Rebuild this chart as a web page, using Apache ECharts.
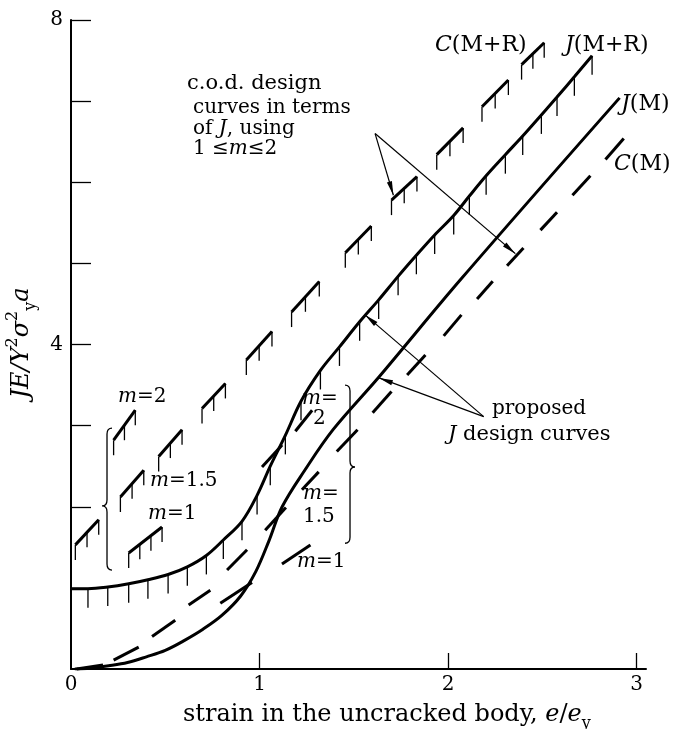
<!DOCTYPE html>
<html><head><meta charset="utf-8">
<script src="https://cdn.jsdelivr.net/npm/echarts@6/dist/echarts.min.js"></script>
<style>html,body{margin:0;padding:0;background:#fff}#c{width:677px;height:729px}</style>
</head><body><div id="c"></div>
<script>
// ---------- data ----------
const xTickLabels = [0, 1, 2, 3];
const xTickValues = [1, 2, 3];
const yTickLabels = [4, 8];
const yTickValues = [1, 2, 3, 4, 5, 6, 7, 8];

// J(M+R): proposed J design curve (solid, hatched)
const jMR = [[0,0.99],[0.09,0.99],[0.195,1.01],[0.306,1.05],[0.408,1.10],[0.515,1.165],[0.617,1.26],
  [0.718,1.40],[0.808,1.59],[0.907,1.82],[0.987,2.14],[1.057,2.50],[1.137,2.88],[1.22,3.30],[1.323,3.68],
  [1.424,3.97],[1.531,4.28],[1.632,4.55],[1.735,4.84],[1.832,5.10],[1.929,5.35],[2.03,5.59],[2.113,5.83],
  [2.202,6.08],[2.304,6.34],[2.396,6.57],[2.495,6.83],[2.578,7.05],[2.67,7.30],[2.764,7.56]];
// J(M): proposed J design curve (solid)
const jM = [[0.02,0],[0.1,0.01],[0.2,0.04],[0.3,0.08],[0.4,0.15],[0.5,0.23],[0.6,0.35],[0.7,0.49],
  [0.8,0.66],[0.9,0.90],[0.98,1.20],[1.05,1.58],[1.12,2.0],[1.24,2.45],[1.39,2.95],[1.63,3.59],[2.07,4.81],[2.91,7.04]];
// C(M) c.o.d. curve, m = 1.5 (dashes: x0,y0,x1,y1)
const cM = [[0.03,0.0,0.17,0.05],[0.226,0.11,0.359,0.27],[0.43,0.40,0.553,0.60],[0.624,0.79,0.739,0.97],
  [0.828,1.22,0.934,1.47],[1.03,1.71,1.14,1.99],[1.225,2.21,1.314,2.43],[1.41,2.68,1.52,2.95],
  [1.60,3.16,1.70,3.42],[1.783,3.625,1.88,3.87],[1.977,4.106,2.071,4.365],[2.154,4.56,2.237,4.78],
  [2.313,4.97,2.40,5.19],[2.49,5.41,2.578,5.63],[2.66,5.84,2.755,6.08],[2.835,6.28,2.932,6.54]];
const cM_m2 = [[1.013,2.49,1.12,2.76],[1.19,2.93,1.279,3.19]];
const cM_m1 = [[0.792,0.81,0.960,1.065],[1.119,1.295,1.27,1.53]];
// C(M+R) c.o.d. curve, m = 1.5 (hatched dashes)
const cMR = [[0.023,1.53,0.147,1.84],[0.262,2.12,0.386,2.45],[0.465,2.62,0.589,2.95],[0.695,3.21,0.819,3.52],
  [0.93,3.81,1.066,4.16],[1.17,4.40,1.317,4.776],[1.455,5.13,1.593,5.46],[1.70,5.78,1.835,6.07],
  [1.94,6.34,2.08,6.67],[2.18,6.93,2.32,7.26],[2.39,7.45,2.51,7.72]];
const cMR_m2 = [[0.226,2.82,0.341,3.19]];
const cMR_m1 = [[0.306,1.43,0.483,1.75]];
// braces: x, yTop, yBottom, yCusp
const braceLeft = [[0.191, 2.97, 1.22, 2.01]];
const braceRight = [[1.48, 3.50, 1.55, 2.49]];
// annotation arrows: from (x0,y0) to tip (x1,y1)
const codArrows = [[1.613,6.60,1.71,5.84],[1.613,6.60,2.357,5.12]];
const proposedArrows = [[2.189,3.111,1.56,4.365],[2.189,3.111,1.634,3.588]];

// ---------- rendering ----------
const F = "'DejaVu Serif', 'Liberation Serif', serif";
const chart = echarts.init(document.getElementById('c'));

function segSeries(data, hatch) {
  return {
    type: 'custom', coordinateSystem: 'cartesian2d', data: data, silent: true, z: 3,
    encode: {x: [0, 2], y: [1, 3]},
    renderItem: function (params, api) {
      const x0 = api.value(0), x1 = api.value(2);
      const a = api.coord([x0, api.value(1)]);
      const b = api.coord([x1, api.value(3)]);
      const ch = [{type: 'line', shape: {x1: a[0], y1: a[1], x2: b[0], y2: b[1]},
        style: {stroke: '#000', lineWidth: 3, lineCap: 'butt'}}];
      if (hatch) {
        const n = Math.max(2, Math.round((x1 - x0) / 0.06));
        for (let i = 0; i <= n; i++) {
          const t = i / n, px = a[0] + (b[0] - a[0]) * t, py = a[1] + (b[1] - a[1]) * t;
          ch.push({type: 'line', shape: {x1: px, y1: py, x2: px, y2: py + 15},
            style: {stroke: '#000', lineWidth: 1.3}});
        }
      }
      return {type: 'group', children: ch};
    }
  };
}
function hatchSeries(data) {
  return {
    type: 'custom', coordinateSystem: 'cartesian2d', data: data, silent: true, z: 3,
    renderItem: function (params, api) {
      const p = api.coord([api.value(0), api.value(1)]);
      return {type: 'line', shape: {x1: p[0], y1: p[1], x2: p[0], y2: p[1] + 19},
        style: {stroke: '#000', lineWidth: 1.3}};
    }
  };
}
function braceSeries(data, dir) {
  return {
    type: 'custom', coordinateSystem: 'cartesian2d', data: data, silent: true, z: 3,
    encode: {x: 0, y: [1, 2]},
    renderItem: function (params, api) {
      const t = api.coord([api.value(0), api.value(1)]);
      const b = api.coord([api.value(0), api.value(2)]);
      const c = api.coord([api.value(0), api.value(3)]);
      const X = t[0], hx = X + dir * 5, cx = X - dir * 5, r = 6;
      const d = 'M' + hx + ' ' + t[1] + ' Q' + X + ' ' + t[1] + ' ' + X + ' ' + (t[1] + r) +
        ' L' + X + ' ' + (c[1] - r) + ' Q' + X + ' ' + c[1] + ' ' + cx + ' ' + c[1] +
        ' Q' + X + ' ' + c[1] + ' ' + X + ' ' + (c[1] + r) +
        ' L' + X + ' ' + (b[1] - r) + ' Q' + X + ' ' + b[1] + ' ' + hx + ' ' + b[1];
      return {type: 'path', shape: {pathData: d}, style: {fill: 'none', stroke: '#000', lineWidth: 1.3}};
    }
  };
}
function arrowSeries(data) {
  return {
    type: 'custom', coordinateSystem: 'cartesian2d', data: data, silent: true, z: 4,
    encode: {x: [0, 2], y: [1, 3]},
    renderItem: function (params, api) {
      const a = api.coord([api.value(0), api.value(1)]);
      const b = api.coord([api.value(2), api.value(3)]);
      const dx = b[0] - a[0], dy = b[1] - a[1], L = Math.hypot(dx, dy);
      const ux = dx / L, uy = dy / L, nx = -uy, ny = ux, len = 14, w = 2.6;
      const bx = b[0] - ux * len, by = b[1] - uy * len;
      return {type: 'group', children: [
        {type: 'line', shape: {x1: a[0], y1: a[1], x2: b[0], y2: b[1]}, style: {stroke: '#000', lineWidth: 1.2}},
        {type: 'polygon', shape: {points: [[b[0], b[1]], [bx + nx * w, by + ny * w], [bx - nx * w, by - ny * w]]},
          style: {fill: '#000'}}
      ]};
    }
  };
}

function mkRich(fs) {
  const s = Math.round(fs * 0.65), lh = Math.round(fs * 1.4);
  return {
    i: {fontFamily: F, fontStyle: 'italic', fontSize: fs, lineHeight: lh, fill: '#000'},
    sub: {fontFamily: F, fontSize: s, verticalAlign: 'bottom', fill: '#000'},
    sup: {fontFamily: F, fontSize: s, verticalAlign: 'top', fill: '#000'}
  };
}
function txt(text, x, y, fs, align, extra) {
  fs = fs || 20;
  return Object.assign({type: 'text', x: x, y: y, silent: true,
    style: {text: text, rich: mkRich(fs), fontFamily: F, fontSize: fs, lineHeight: Math.round(fs * 1.4), fill: '#000',
      align: align || 'left', verticalAlign: 'middle'}}, extra || {});
}

const option = {
  backgroundColor: '#fff',
  animation: false,
  grid: {left: 71, top: 20, width: 575, height: 649, containLabel: false},
  xAxis: {
    type: 'value', min: 0, max: 3.05,
    axisLine: {show: true, onZero: false, lineStyle: {color: '#000', width: 2}},
    axisTick: {show: true, inside: true, length: 16, customValues: xTickValues, lineStyle: {color: '#000', width: 1.3}},
    axisLabel: {customValues: xTickLabels, color: '#000', fontFamily: F, fontSize: 20, margin: 6},
    splitLine: {show: false}
  },
  yAxis: {
    type: 'value', min: 0, max: 8,
    axisLine: {show: true, onZero: false, lineStyle: {color: '#000', width: 2}},
    axisTick: {show: true, inside: true, length: 20, customValues: yTickValues, lineStyle: {color: '#000', width: 1.3}},
    axisLabel: {customValues: yTickLabels, color: '#000', fontFamily: F, fontSize: 20, margin: 8},
    splitLine: {show: false}
  },
  series: [
    {type: 'line', data: jMR, smooth: 0.35, symbol: 'none', silent: true, z: 3,
      lineStyle: {color: '#000', width: 3}},
    hatchSeries(jMR.slice(1)),
    {type: 'line', data: jM, smooth: 0.35, symbol: 'none', silent: true, z: 3,
      lineStyle: {color: '#000', width: 3}},
    segSeries(cM, false),
    segSeries(cM_m2, false),
    segSeries(cM_m1, false),
    segSeries(cMR, true),
    segSeries(cMR_m2, true),
    segSeries(cMR_m1, true),
    braceSeries(braceLeft, 1),
    braceSeries(braceRight, -1),
    arrowSeries(codArrows),
    arrowSeries(proposedArrows)
  ],
  graphic: [
    txt('c.o.d. design', 187, 84, 21),
    txt('curves in terms', 193, 108),
    txt('of {i|J}, using', 193, 129),
    txt('1 ≤{i|m}≤2', 193, 149),
    txt('{i|C}(M+R)', 435, 45, 22),
    txt('{i|J}(M+R)', 565, 45, 22),
    txt('{i|J}(M)', 621, 104, 22),
    txt('{i|C}(M)', 614, 164, 22),
    txt('proposed', 492, 409),
    txt('{i|J} design curves', 448, 435, 21),
    txt('{i|m}=2', 118, 397),
    txt('{i|m}=1.5', 150, 481),
    txt('{i|m}=1', 148, 514),
    txt('{i|m}=', 302, 399),
    txt('2', 313, 419),
    txt('{i|m}=', 303, 494),
    txt('1.5', 303, 517),
    txt('{i|m}=1', 297, 562),
    txt('strain in the uncracked body, {i|e}/{i|e}{sub|y}', 183, 715, 24),
    txt('{i|JE/Y}{sup|2}{i|σ}{sup|2}{sub|y}{i|a}', 22, 343, 24, 'center', {rotation: Math.PI / 2})
  ]
};
chart.setOption(option);
</script></body></html>
